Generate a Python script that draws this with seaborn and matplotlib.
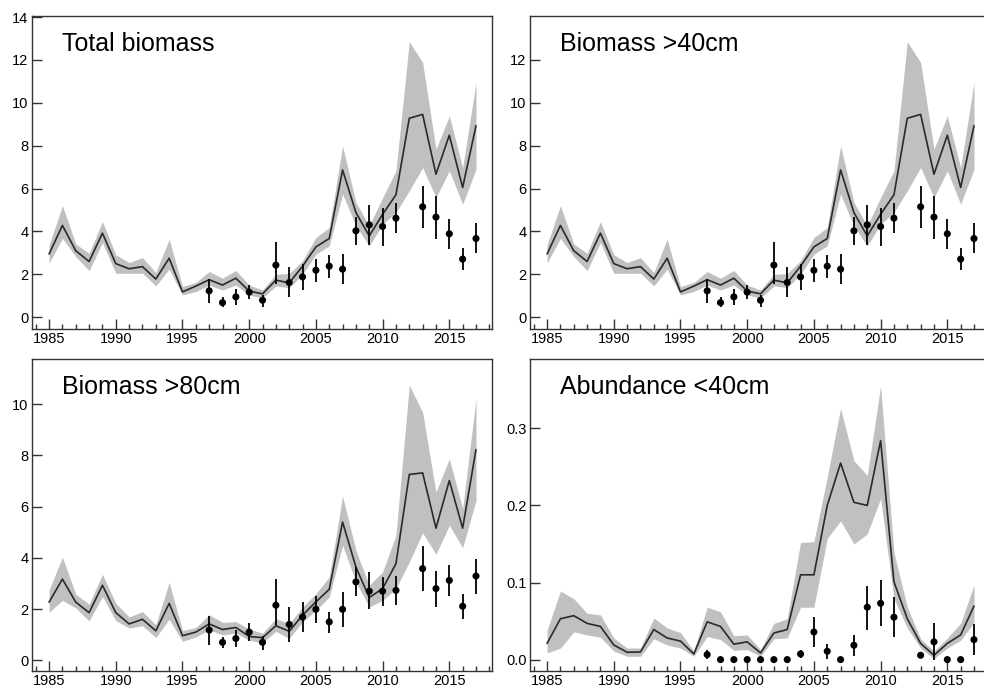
import numpy as np
import pandas as pd
import matplotlib
matplotlib.use("Agg")
import matplotlib.pyplot as plt
from matplotlib.ticker import MultipleLocator, FormatStrFormatter
import seaborn as sns

sns.set_style("white")
plt.rcParams['font.family'] = ['Liberation Sans', 'DejaVu Sans']

years = list(range(1985, 2018))
obs_years = list(range(1997, 2012)) + list(range(2013, 2018))

# Total biomass
tot_mid = [2.95, 4.28, 3.1, 2.6, 3.92, 2.5, 2.26, 2.36, 1.78, 2.75, 1.18, 1.45, 1.75, 1.5, 1.82, 1.22, 1.09,
           1.73, 1.6, 2.38, 3.28, 3.67, 6.87, 4.88, 3.79, 4.8, 5.71, 9.28, 9.46, 6.67, 8.49, 6.05, 8.93]
tot_hi = [3.37, 5.21, 3.42, 2.98, 4.46, 2.91, 2.55, 2.78, 2.08, 3.64, 1.43, 1.62, 2.13, 1.82, 2.18, 1.5, 1.27,
          2.0, 2.04, 2.63, 3.72, 4.18, 7.99, 5.35, 4.26, 5.58, 6.83, 12.85, 11.88, 7.84, 9.39, 6.98, 10.95]
tot_lo = [2.52, 3.68, 2.83, 2.17, 3.48, 2.05, 2.05, 2.05, 1.46, 2.24, 1.04, 1.2, 1.5, 1.27, 1.5, 1.04, 0.89,
          1.46, 1.38, 2.0, 2.94, 3.33, 5.74, 4.26, 3.33, 4.34, 4.88, 5.9, 6.98, 5.58, 6.83, 5.27, 6.9]
tot_obs = [1.23, 0.68, 0.95, 1.17, 0.79, 2.43, 1.62, 1.88, 2.19, 2.38, 2.24, 4.03, 4.31, 4.23, 4.62,
           5.15, 4.67, 3.89, 2.71, 3.67]
tot_obs_hi = [1.77, 0.92, 1.3, 1.5, 1.04, 3.51, 2.32, 2.47, 2.71, 2.89, 2.94, 4.68, 5.23, 5.1, 5.35,
              6.1, 5.66, 4.57, 3.22, 4.39]
tot_obs_lo = [0.65, 0.46, 0.57, 0.84, 0.46, 1.54, 0.92, 1.28, 1.66, 1.85, 1.54, 3.36, 3.36, 3.33, 3.92,
              4.18, 3.67, 3.2, 2.18, 2.99]

# Biomass >40cm
b40_mid = [2.95, 4.28, 3.1, 2.6, 3.92, 2.5, 2.26, 2.36, 1.78, 2.75, 1.18, 1.45, 1.75, 1.5, 1.82, 1.22, 1.09,
           1.73, 1.6, 2.38, 3.28, 3.67, 6.87, 4.88, 3.79, 4.8, 5.71, 9.28, 9.46, 6.67, 8.49, 6.05, 8.93]
b40_hi = [3.37, 5.21, 3.42, 2.98, 4.46, 2.91, 2.55, 2.78, 2.08, 3.64, 1.43, 1.62, 2.13, 1.82, 2.18, 1.5, 1.27,
          2.0, 2.04, 2.63, 3.72, 4.18, 7.99, 5.35, 4.26, 5.58, 6.83, 12.85, 11.88, 7.84, 9.39, 6.98, 10.95]
b40_lo = [2.52, 3.68, 2.83, 2.17, 3.48, 2.05, 2.05, 2.05, 1.46, 2.24, 1.04, 1.2, 1.5, 1.27, 1.5, 1.04, 0.89,
          1.46, 1.38, 2.0, 2.94, 3.33, 5.74, 4.26, 3.33, 4.34, 4.88, 5.9, 6.98, 5.58, 6.83, 5.27, 6.9]
b40_obs = [1.23, 0.68, 0.95, 1.17, 0.79, 2.43, 1.62, 1.88, 2.19, 2.38, 2.24, 4.03, 4.31, 4.23, 4.62,
           5.15, 4.67, 3.89, 2.71, 3.67]
b40_obs_hi = [1.77, 0.92, 1.3, 1.5, 1.04, 3.51, 2.32, 2.47, 2.71, 2.89, 2.94, 4.68, 5.23, 5.1, 5.35,
              6.1, 5.66, 4.57, 3.22, 4.39]
b40_obs_lo = [0.65, 0.46, 0.57, 0.84, 0.46, 1.54, 0.92, 1.28, 1.66, 1.85, 1.54, 3.36, 3.36, 3.33, 3.92,
              4.18, 3.67, 3.2, 2.18, 2.99]

# Biomass >80cm
b80_mid = [2.27, 3.17, 2.27, 1.86, 2.93, 1.86, 1.42, 1.6, 1.15, 2.22, 0.96, 1.1, 1.42, 1.2, 1.28, 0.93, 0.88,
           1.35, 1.13, 1.76, 2.28, 2.77, 5.4, 3.64, 2.45, 2.8, 3.77, 7.26, 7.32, 5.16, 7.02, 5.16, 8.23]
b80_hi = [2.75, 4.03, 2.58, 2.19, 3.36, 2.23, 1.69, 1.9, 1.39, 3.04, 1.16, 1.28, 1.78, 1.48, 1.51, 1.22, 1.06,
          1.63, 1.43, 2.08, 2.6, 3.25, 6.41, 4.29, 2.93, 3.45, 4.88, 10.75, 9.69, 6.57, 7.87, 5.92, 10.23]
b80_lo = [1.88, 2.34, 2.04, 1.54, 2.49, 1.55, 1.26, 1.35, 0.89, 1.6, 0.74, 0.91, 1.19, 0.99, 1.06, 0.78, 0.68,
          1.13, 0.85, 1.5, 1.95, 2.47, 4.49, 3.06, 2.08, 2.34, 2.8, 3.84, 4.98, 4.14, 5.27, 4.4, 6.24]
b80_obs = [1.18, 0.7, 0.85, 1.1, 0.7, 2.15, 1.4, 1.69, 1.99, 1.5, 1.99, 3.06, 2.7, 2.7, 2.73,
           3.58, 2.8, 3.12, 2.11, 3.29]
b80_obs_hi = [1.71, 0.91, 1.17, 1.45, 0.93, 3.18, 2.08, 2.28, 2.5, 1.89, 2.67, 3.64, 3.45, 3.25, 3.29,
              4.46, 3.49, 3.73, 2.57, 3.97]
b80_obs_lo = [0.61, 0.48, 0.51, 0.74, 0.39, 1.37, 0.72, 1.11, 1.47, 1.08, 1.3, 2.5, 1.99, 2.12, 2.17,
              2.69, 2.08, 2.51, 1.63, 2.6]

# Abundance <40cm
ab_mid = [0.021, 0.053, 0.057, 0.047, 0.043, 0.019, 0.0095, 0.0099, 0.039, 0.028, 0.024, 0.0073, 0.049, 0.043,
          0.020, 0.023, 0.0086, 0.0345, 0.039, 0.110, 0.110, 0.200, 0.255, 0.204, 0.200, 0.284, 0.101, 0.053,
          0.021, 0.0056, 0.021, 0.032, 0.0695]
ab_hi = [0.038, 0.089, 0.079, 0.060, 0.058, 0.028, 0.015, 0.015, 0.054, 0.041, 0.035, 0.011, 0.068, 0.062,
         0.031, 0.032, 0.013, 0.047, 0.053, 0.152, 0.153, 0.237, 0.326, 0.258, 0.239, 0.355, 0.139, 0.068,
         0.027, 0.011, 0.028, 0.047, 0.097]
ab_lo = [0.0086, 0.015, 0.036, 0.032, 0.029, 0.011, 0.0043, 0.0043, 0.027, 0.019, 0.015, 0.0043, 0.030, 0.026,
         0.012, 0.013, 0.0043, 0.027, 0.028, 0.068, 0.068, 0.157, 0.180, 0.150, 0.163, 0.209, 0.079, 0.041,
         0.015, 0.0013, 0.015, 0.025, 0.048]
ab_obs = [0.0065, 0, 0, 0, 0, 0, 0, 0.0073, 0.0358, 0.0108, 0, 0.0186, 0.068, 0.073, 0.055,
          0.0056, 0.023, 0, 0, 0.0259]
ab_obs_hi = [0.012, 0, 0, 0, 0, 0, 0, 0.012, 0.055, 0.0207, 0, 0.0315, 0.096, 0.103, 0.081,
             0.0075, 0.0475, 0, 0, 0.0466]
ab_obs_lo = [0.0009, 0, 0, 0, 0, 0, 0, 0.002, 0.0164, 0.0013, 0, 0.0047, 0.039, 0.0436, 0.029,
             0.004, 0.0, 0, 0, 0.0056]

titles = ["Total biomass", "Biomass >40cm", "Biomass >80cm", "Abundance <40cm"]

W, H = 984, 691
fig = plt.figure(figsize=(W / 100, H / 100), dpi=100)

def rect(x0, y0, x1, y1):
    return [x0 / W, 1 - y1 / H, (x1 - x0) / W, (y1 - y0) / H]

panels = [
    dict(r=rect(32, 16, 492, 329), mid=tot_mid, hi=tot_hi, lo=tot_lo, o=tot_obs, oh=tot_obs_hi, ol=tot_obs_lo,
         ylim=(-0.55, 14.05), yt=np.arange(0, 15, 2), fmt="%d", title=titles[0]),
    dict(r=rect(530, 16, 990, 329), mid=b40_mid, hi=b40_hi, lo=b40_lo, o=b40_obs, oh=b40_obs_hi, ol=b40_obs_lo,
         ylim=(-0.55, 14.05), yt=np.arange(0, 13, 2), fmt="%d", title=titles[1]),
    dict(r=rect(32, 359, 492, 671), mid=b80_mid, hi=b80_hi, lo=b80_lo, o=b80_obs, oh=b80_obs_hi, ol=b80_obs_lo,
         ylim=(-0.42, 11.77), yt=np.arange(0, 11, 2), fmt="%d", title=titles[2]),
    dict(r=rect(530, 359, 990, 671), mid=ab_mid, hi=ab_hi, lo=ab_lo, o=ab_obs, oh=ab_obs_hi, ol=ab_obs_lo,
         ylim=(-0.0148, 0.39), yt=[0.0, 0.1, 0.2, 0.3], fmt="%.1f", title=titles[3]),
]

for p in panels:
    ax = fig.add_axes(p["r"])
    ax.fill_between(years, p["lo"], p["hi"], color="#c0c0c0", linewidth=0, zorder=1)
    sns.lineplot(x=years, y=p["mid"], ax=ax, color="#2a2a2a", linewidth=1.2, zorder=2)
    ax.vlines(obs_years, p["ol"], p["oh"], color="black", linewidth=1.3, zorder=3)
    sns.scatterplot(x=obs_years, y=p["o"], ax=ax, color="black", s=26, edgecolor="none", zorder=4)
    ax.set_xlim(1983.72, 2018.2)
    ax.set_ylim(*p["ylim"])
    ax.set_yticks(p["yt"])
    ax.yaxis.set_major_formatter(FormatStrFormatter(p["fmt"]))
    ax.xaxis.set_major_locator(MultipleLocator(5))
    ax.xaxis.set_minor_locator(MultipleLocator(1))
    ax.tick_params(axis="both", which="major", direction="in", length=7, width=1.0, color="#333333",
                   labelsize=10.5, pad=2.5, labelcolor="black")
    ax.tick_params(axis="x", which="minor", direction="in", length=3.5, width=1.0, color="#333333")
    ax.tick_params(axis="y", which="both", left=True)
    ax.tick_params(axis="x", which="both", bottom=True)
    for s in ax.spines.values():
        s.set_visible(True)
        s.set_color("#333333")
        s.set_linewidth(1.0)
    ax.set_xlabel("")
    ax.set_ylabel("")
    ax.text(0.065, 0.91, p["title"], transform=ax.transAxes, fontsize=18, color="black",
            ha="left", va="center")

fig.savefig("out.png", dpi=100)
